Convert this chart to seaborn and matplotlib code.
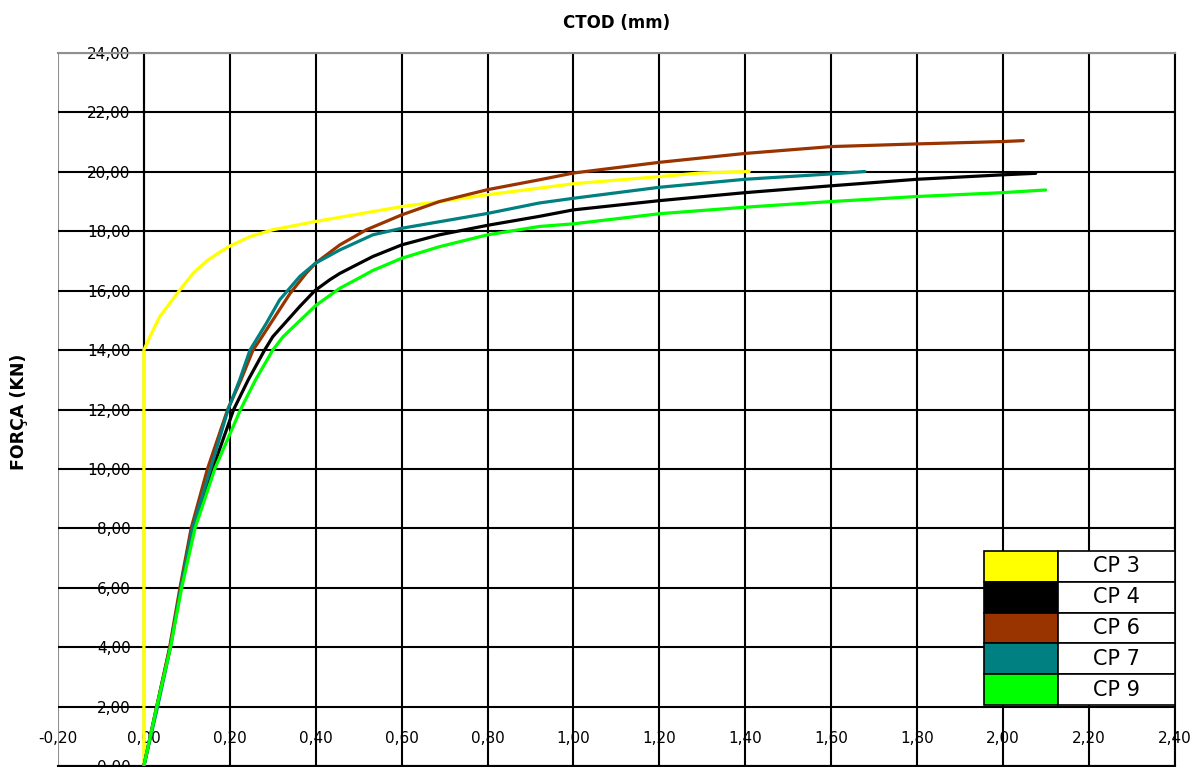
import numpy as np
import pandas as pd
import matplotlib
matplotlib.use("Agg")
import matplotlib.pyplot as plt
import seaborn as sns

# data (CTOD mm, force kN)
cp3_x = [0, 0, 0.014, 0.037, 0.084, 0.115, 0.146, 0.177, 0.2, 0.247, 0.30, 0.40, 0.60, 0.69, 0.80, 0.92, 1.0, 1.2, 1.293, 1.409]
cp3_y = [0, 14, 14.45, 15.13, 16.03, 16.59, 17.0, 17.3, 17.5, 17.82, 18.05, 18.33, 18.83, 19.0, 19.23, 19.45, 19.6, 19.84, 19.96, 20.01]

cp4_x = [0, 0.03, 0.061, 0.086, 0.114, 0.16, 0.209, 0.243, 0.281, 0.30, 0.363, 0.398, 0.433, 0.456, 0.495, 0.533, 0.60, 0.688, 0.80, 0.92, 1.0, 1.2, 1.4, 1.6, 1.8, 2.0, 2.076]
cp4_y = [0, 2, 4, 6, 8, 10, 12, 13, 14, 14.45, 15.47, 16, 16.37, 16.58, 16.87, 17.15, 17.54, 17.88, 18.2, 18.5, 18.72, 19.03, 19.3, 19.53, 19.75, 19.9, 19.95]

cp6_x = [0, 0.03, 0.06, 0.084, 0.11, 0.148, 0.195, 0.226, 0.254, 0.27, 0.34, 0.378, 0.40, 0.456, 0.518, 0.60, 0.688, 0.80, 0.92, 1.0, 1.2, 1.4, 1.6, 1.8, 2.0, 2.047]
cp6_y = [0, 2, 4, 6, 8, 10, 12, 13, 14, 14.34, 15.9, 16.59, 16.93, 17.54, 18.05, 18.55, 19.0, 19.4, 19.73, 19.96, 20.32, 20.62, 20.85, 20.94, 21.02, 21.05]

cp7_x = [0, 0.032, 0.062, 0.086, 0.113, 0.155, 0.196, 0.223, 0.247, 0.285, 0.316, 0.363, 0.40, 0.456, 0.533, 0.60, 0.80, 0.92, 1.0, 1.2, 1.4, 1.6, 1.678]
cp7_y = [0, 2, 4, 6, 8, 10, 12, 13, 14, 14.9, 15.69, 16.48, 16.93, 17.37, 17.88, 18.10, 18.6, 18.95, 19.11, 19.48, 19.75, 19.93, 20.01]

cp9_x = [0, 0.03, 0.062, 0.088, 0.119, 0.165, 0.225, 0.26, 0.30, 0.324, 0.40, 0.456, 0.495, 0.533, 0.60, 0.688, 0.80, 0.92, 1.0, 1.2, 1.4, 1.6, 1.8, 2.0, 2.099]
cp9_y = [0, 2, 4, 6, 8, 10, 12, 13, 14, 14.45, 15.5, 16.08, 16.38, 16.68, 17.09, 17.48, 17.88, 18.16, 18.25, 18.59, 18.81, 19.0, 19.17, 19.30, 19.39]

names = ["CP 3", "CP 4", "CP 6", "CP 7", "CP 9"]
colors = ["#FFFF00", "#000000", "#993300", "#008080", "#00FF00"]

xs = [cp3_x, cp4_x, cp6_x, cp7_x, cp9_x]
ys = [cp3_y, cp4_y, cp6_y, cp7_y, cp9_y]
frames = []
for n, x, y in zip(names, xs, ys):
    d = pd.DataFrame({"ctod": x, "forca": y})
    d["cp"] = n
    frames.append(d)
df = pd.concat(frames, ignore_index=True)

sns.set_style("white")
plt.rcParams["font.family"] = ["DejaVu Sans"]
plt.rcParams["text.color"] = "black"
plt.rcParams["xtick.color"] = "black"
plt.rcParams["ytick.color"] = "black"

fig = plt.figure(figsize=(11.95, 7.67), dpi=100)
ax = fig.add_axes([0.0485, 0.0013, 0.9347, 0.9296])

sns.lineplot(data=df, x="ctod", y="forca", hue="cp", hue_order=names,
             palette=colors, estimator=None, sort=False, units="cp",
             linewidth=2.3, legend=False, ax=ax, zorder=3)

ax.set_xlim(-0.2, 2.4)
ax.set_ylim(0, 24)
xt = np.round(np.arange(-0.2, 2.41, 0.2), 2)
yt = np.arange(0, 25, 2)
ax.set_xticks(xt)
ax.set_yticks(yt)
ax.set_xticklabels([f"{v:.2f}".replace(".", ",") for v in xt])
ax.set_yticklabels([f"{v:.2f}".replace(".", ",") for v in yt])
ax.set_xlabel("")
ax.set_ylabel("")

ax.grid(True, color="black", lw=1.5)
ax.set_axisbelow(True)
ax.get_xgridlines()[0].set_color("#909090")
ax.get_ygridlines()[-1].set_color("#909090")

ax.spines["left"].set_position(("data", 0))
ax.spines["left"].set_color("black")
ax.spines["top"].set_color("#909090")
ax.spines["right"].set_color("black")
ax.spines["bottom"].set_color("black")
for s in ax.spines.values():
    s.set_linewidth(1.5)

ax.tick_params(axis="y", direction="out", length=4.5, width=1.2, pad=5,
               labelsize=11, left=True, labelcolor="black")
ax.tick_params(axis="x", length=0, pad=-25, labelsize=11, labelcolor="black")

# legend as a small table like the original
tab = ax.table(cellText=[["", n] for n in names],
               cellColours=[[c, "white"] for c in colors],
               colWidths=[0.387, 0.613], cellLoc="center",
               bbox=[0.829, 0.0856, 0.171, 0.216], zorder=5)
tab.auto_set_font_size(False)
tab.set_fontsize(15)
for cell in tab.get_celld().values():
    cell.set_edgecolor("black")
    cell.set_linewidth(1.2)
    cell.get_text().set_color("black")

fig.text(0.516, 0.970, "CTOD (mm)", ha="center", va="center",
         fontsize=12, fontweight="bold", color="black")
fig.text(0.016, 1 - 412 / 767, "FORÇA (KN)", ha="center", va="center",
         rotation=90, fontsize=12.5, fontweight="bold", color="black")

fig.savefig("out.png", dpi=100)
